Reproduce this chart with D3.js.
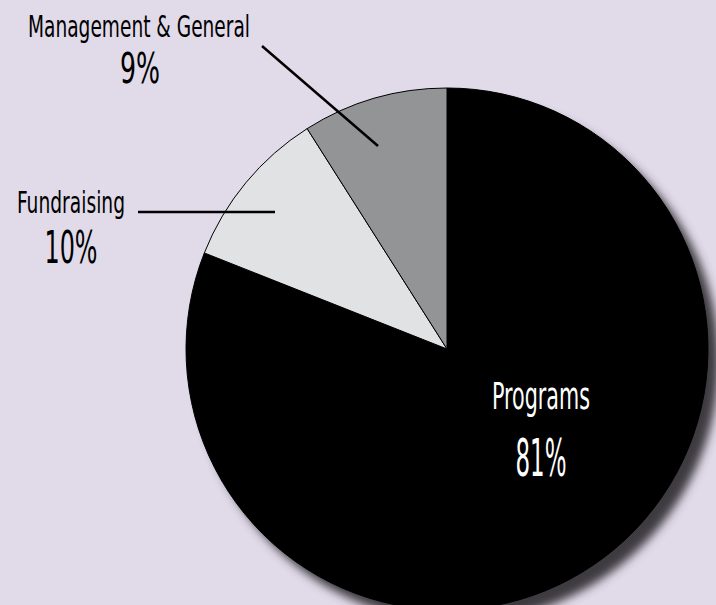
<!DOCTYPE html>
<html>
<head>
<meta charset="utf-8">
<script src="https://cdn.jsdelivr.net/npm/d3@7"></script>
<style>
  body { margin: 0; background: #e1dae9; }
  text { font-family: "Liberation Sans Narrow", "DejaVu Sans Condensed", sans-serif; }
</style>
</head>
<body>
<div id="chart"></div>
<script>
// size of svg
const width = 716; const height = 605;

// data
const categories = ['Programs', 'Fundraising', 'Management & General'];
const values = [81, 10, 9];
const colors = ['#000000', '#e1e2e4', '#939496'];

const cx = 447, cy = 349, radius = 261;

let svg = d3.select('#chart')
    .append('svg')
        .attr('width', width)
        .attr('height', height);

svg.append('rect')
    .attr('width', width)
    .attr('height', height)
    .attr('fill', '#e1dae9');

// drop shadow
let defs = svg.append('defs');
let filter = defs.append('filter')
    .attr('id', 'shadow')
    .attr('x', '-20%').attr('y', '-20%')
    .attr('width', '140%').attr('height', '140%');
filter.append('feGaussianBlur')
    .attr('in', 'SourceGraphic')
    .attr('stdDeviation', 5);

let data = categories.map((c, i) => ({name: c, value: values[i], color: colors[i]}));

let pie = d3.pie()
    .sort(null)
    .value(d => d.value);

let arc = d3.arc()
    .innerRadius(0)
    .outerRadius(radius);

let plotG = svg.append('g')
    .attr('transform', `translate(${cx}, ${cy})`);

plotG.append('circle')
    .attr('cx', 11)
    .attr('cy', 12)
    .attr('r', radius)
    .attr('fill', '#3c3b40')
    .attr('filter', 'url(#shadow)');

plotG.selectAll('path')
    .data(pie(data))
    .join('path')
        .attr('d', arc)
        .attr('fill', d => d.data.color)
        .attr('stroke', '#000')
        .attr('stroke-width', 1);

// leader lines
svg.append('line')
    .attr('x1', 262).attr('y1', 46)
    .attr('x2', 378).attr('y2', 146)
    .attr('stroke', '#000')
    .attr('stroke-width', 2.5);

svg.append('line')
    .attr('x1', 138).attr('y1', 212)
    .attr('x2', 275).attr('y2', 212)
    .attr('stroke', '#000')
    .attr('stroke-width', 2.5);

// labels
function label(x, y, txt, size, w, fill) {
    svg.append('text')
        .attr('x', x)
        .attr('y', y)
        .attr('text-anchor', 'middle')
        .attr('font-size', size)
        .attr('fill', fill)
        .attr('textLength', w)
        .attr('lengthAdjust', 'spacingAndGlyphs')
        .text(txt);
}

label(139, 37, categories[2], 30, 222, '#000');
label(140, 83, values[2] + '%', 42, 40, '#000');
label(71, 213, categories[1], 31, 108, '#000');
label(71, 263, values[1] + '%', 44, 53, '#000');
label(541, 409, categories[0], 37, 98, '#fff');
label(541, 476, values[0] + '%', 51, 51, '#fff');
</script>
</body>
</html>
